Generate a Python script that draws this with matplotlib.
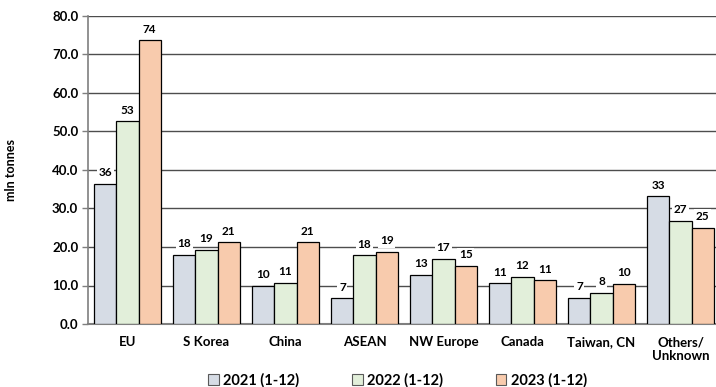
import numpy as np
import matplotlib
matplotlib.use("Agg")
import matplotlib.pyplot as plt
from matplotlib.ticker import MultipleLocator

plt.rcParams['font.family'] = ['Lato', 'DejaVu Sans']
plt.rcParams['font.weight'] = 'bold'

# Datos
regiones = ["EU", "S Korea", "China", "ASEAN", "NW Europe", "Canada",
            "Taiwan, CN", "Others/\nUnknown"]
series = ["2021 (1-12)", "2022 (1-12)", "2023 (1-12)"]
v2021 = [36.4, 17.9, 9.9, 6.7, 12.8, 10.6, 6.8, 33.2]
v2022 = [52.6, 19.3, 10.7, 17.8, 17.0, 12.2, 8.1, 26.8]
v2023 = [73.7, 21.2, 21.2, 18.7, 15.1, 11.3, 10.4, 25.0]
colores = ["#D6DCE5", "#E2EFDA", "#F8CBAD"]

fig = plt.figure(figsize=(7.16, 3.87), dpi=100)
ax = fig.add_axes([88 / 716, 63 / 387, 632 / 716, 308 / 387])

x = np.arange(len(regiones))
ancho = 0.28
for i, (vals, nombre, color) in enumerate(zip([v2021, v2022, v2023], series, colores)):
    pos = x + (i - 1) * ancho
    ax.bar(pos, vals, ancho, color=color, edgecolor="black", linewidth=0.9,
           label=nombre, zorder=3)
    for px, v in zip(pos, vals):
        ax.text(px, v + 2.9, f"{round(v):d}", ha="center", va="center", fontsize=8.5,
                fontweight="bold", zorder=4,
                bbox=dict(facecolor="white", edgecolor="none", pad=1.2))

# Ejes
ax.set_xlim(-0.5, len(regiones) - 0.5)
ax.set_ylim(0, 80)
ax.yaxis.set_major_locator(MultipleLocator(10))
ax.set_yticklabels([f"{t:.1f}" for t in ax.get_yticks()])
ax.set_xticks(x)
ax.set_xticklabels(regiones, fontsize=9.5, fontweight="bold")
ax.tick_params(axis="x", length=0, pad=9)
ax.tick_params(axis="y", length=4, width=1, color="#7f7f7f", labelsize=9.5, pad=3)
for lab in ax.get_yticklabels():
    lab.set_fontweight("bold")

ax.grid(axis="y", color="#4d4d4d", linewidth=1, zorder=0)
ax.set_axisbelow(True)
for lado in ["top", "right"]:
    ax.spines[lado].set_visible(False)
ax.spines["left"].set_color("#7f7f7f")
ax.spines["left"].set_linewidth(1.2)
ax.spines["bottom"].set_color("#7f7f7f")
ax.spines["bottom"].set_linewidth(1.5)

ax.set_ylabel("mln tonnes", fontsize=9, fontweight="bold")
ax.yaxis.set_label_coords(-0.113, 0.5)

fig.legend(loc="lower center", bbox_to_anchor=(0.555, -0.035), ncol=3,
           frameon=False, handlelength=0.75, handleheight=0.75,
           columnspacing=3.6, handletextpad=0.3,
           prop={"weight": "bold", "size": 10.5})
for h in fig.legends[0].legend_handles:
    h.set_edgecolor("#595959")
    h.set_linewidth(0.8)

fig.savefig("out.png", dpi=100)
